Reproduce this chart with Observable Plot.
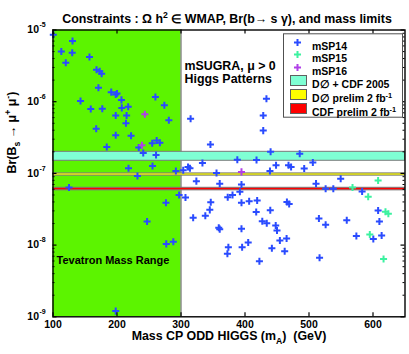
<!DOCTYPE html>
<html>
<head>
<meta charset="utf-8">
<script src="https://cdn.jsdelivr.net/npm/d3@7"></script>
<script src="https://cdn.jsdelivr.net/npm/@observablehq/plot@0.6"></script>
<style>
  html, body { margin: 0; padding: 0; background: white; }
  #chart svg { display: block; }
</style>
</head>
<body>
<div id="chart"></div>
<script>
// ---------- data ----------
const mSP14Mass = [100.5,130.5,113,130,120,157,168,173,176,171,191,198,200,207,143,159,177,207.5,217.5,260,274,198,215,281,214,167.5,198,222,184,234,255,262,267,241,261,218,255.5,232,292,125,276.5,247,277,288,198,
  315,433.5,428.5,428.5,346,440,485.5,388,418,333.5,448.5,506,468,472,492.5,311,314,303.5,355.5,439,324,360.5,394.5,511,549.5,526,538,583,297,307,346.5,373,380.5,392,394.5,406.5,419,465.5,469,345,338,319,417.5,439.5,427,434,448,450,359,360.5,394.5,405,454.5,465,374,395.5,442,372.5,462,422.5,515.5,526,559,608,610,574,600.5,613.5,516.5];
const mSP14Br = [8.6e-6,7.0e-6,5.0e-6,4.8e-6,3.5e-6,4.2e-6,2.8e-6,2.65e-6,2.45e-6,1.56e-6,1.36e-6,1.26e-6,1.30e-6,1.06e-6,1.02e-6,7.9e-7,8.0e-7,8.2e-7,8.5e-7,1.16e-6,8.9e-7,6.4e-7,6.4e-7,5.5e-7,5.0e-7,4.2e-7,3.4e-7,3.35e-7,2.33e-7,2.3e-7,2.64e-7,2.88e-7,2.67e-7,1.93e-7,1.80e-7,1.18e-7,1.27e-7,9.2e-8,1.08e-7,6.35e-8,3.9e-8,2.13e-8,1.04e-8,1.11e-8,1.2e-9,
  5.8e-7,1.10e-6,6.4e-7,3.95e-7,2.53e-7,2.0e-7,1.88e-7,1.55e-7,1.54e-7,1.40e-7,1.30e-7,1.42e-7,1.30e-7,1.23e-7,1.17e-7,1.23e-7,1.18e-7,1.11e-7,1.01e-7,1.08e-7,7.8e-8,7.2e-8,7.0e-8,7.2e-8,8.4e-8,6.1e-8,6.1e-8,5.6e-8,5.0e-8,4.6e-8,3.95e-8,4.65e-8,5.0e-8,5.55e-8,3.9e-8,4.1e-8,4.2e-8,4.0e-8,3.75e-8,3.1e-8,2.56e-8,2.4e-8,2.9e-8,3.07e-8,2.15e-8,2.02e-8,1.87e-8,1.6e-8,1.74e-8,1.67e-8,1.69e-8,1.09e-8,1.16e-8,1.24e-8,9.35e-9,9.35e-9,9.06e-9,7.6e-9,8.2e-9,5.96e-9,2.35e-8,1.92e-8,2.22e-8,3.04e-8,2.13e-8,1.34e-8,1.22e-8,1.36e-8,6.65e-9];
const mSP15Mass = [608,568,592.5,619.5,624,595,616.5];
const mSP15Br = [7.96e-8,6.35e-8,4.73e-8,2.91e-8,2.73e-8,1.41e-8,6.4e-9];
const mSP16Mass = [243.5,239,394.5];
const mSP16Br = [6.7e-7,2.47e-7,1.05e-7];

const tevatronRange = [100, 300];
const bandNames = ["D\u2205 + CDF 2005", "D\u2205 prelim 2 fb^{-1}", "CDF prelim 2 fb^{-1}"];
const bandLow = [1.5e-7, 9.3e-8, 5.8e-8];
const bandHigh = [2.0e-7, 1.0e-7, 6.3e-8];
const bandColors = ["#7fffd4", "#ffff00", "#ff0000"];

const seriesNames = ["mSP14", "mSP15", "mSP16"];
const seriesColors = ["#2a4bff", "#3cf2a0", "#b040e8"];

const xDomain = [100, 650];
const yDomain = [1e-9, 1e-5];
const xTicks = [100, 200, 300, 400, 500, 600];
const yMajor = [1e-9, 1e-8, 1e-7, 1e-6, 1e-5];
const yMinor = yMajor.slice(0, -1).flatMap(d => d3.range(2, 10).map(k => k * d));

// ---------- tables ----------
const toRows = (xs, ys) => xs.map((x, i) => ({mass: x, br: ys[i]}));
const series = [toRows(mSP14Mass, mSP14Br), toRows(mSP15Mass, mSP15Br), toRows(mSP16Mass, mSP16Br)];
const bands = bandNames.map((n, i) => ({name: n, lo: bandLow[i], hi: bandHigh[i], color: bandColors[i]}));

// ---------- layout ----------
const W = 409, H = 354;
const mL = 52.5, mR = 4.5, mT = 29.5, mB = 37.7;
const pw = W - mL - mR, ph = H - mT - mB;
const FONT = "'Liberation Sans', Arial, Helvetica, sans-serif";
const PR = 2.4; // plus radius

const marks = [];
// Tevatron region
marks.push(Plot.rect([tevatronRange], {x1: d => d[0], x2: d => d[1], y1: yDomain[0], y2: yDomain[1], fill: "#5cf400"}));
marks.push(Plot.ruleX([tevatronRange[1]], {x: d => d, stroke: "#707070", strokeWidth: 1.2}));
// bands
bands.forEach(b => {
  marks.push(Plot.rect([b], {x1: xDomain[0], x2: xDomain[1], y1: "lo", y2: "hi", fill: b.color, stroke: "#7a7a7a", strokeWidth: 1}));
});
// points
series.forEach((s, i) => {
  marks.push(Plot.dot(s, {x: "mass", y: "br", symbol: "plus", r: PR, stroke: seriesColors[i], strokeWidth: 2}));
});
// frame + ticks
marks.push(Plot.frame({stroke: "black", strokeWidth: 1.4}));
marks.push(Plot.ruleX(xTicks, {x: d => d, insetTop: ph - 4, stroke: "black", strokeWidth: 1.2}));
marks.push(Plot.ruleX(xTicks, {x: d => d, insetBottom: ph - 4, stroke: "black", strokeWidth: 1.2}));
marks.push(Plot.ruleY(yMajor, {y: d => d, insetRight: pw - 4, stroke: "black", strokeWidth: 1.2}));
marks.push(Plot.ruleY(yMajor, {y: d => d, insetLeft: pw - 4, stroke: "black", strokeWidth: 1.2}));
marks.push(Plot.ruleY(yMinor, {y: d => d, insetRight: pw - 2, stroke: "black", strokeWidth: 1}));
marks.push(Plot.ruleY(yMinor, {y: d => d, insetLeft: pw - 2, stroke: "black", strokeWidth: 1}));
// tick labels
marks.push(Plot.text(xTicks, {x: d => d, frameAnchor: "bottom", dy: 11, text: d => String(d), fontSize: 10.5, fontWeight: "bold"}));
marks.push(Plot.text(yMajor, {y: d => d, frameAnchor: "left", dx: -14, textAnchor: "end", text: () => "10", fontSize: 10.5, fontWeight: "bold"}));
marks.push(Plot.text(yMajor, {y: d => d, frameAnchor: "left", dx: -13.5, dy: -5, textAnchor: "start", text: d => String(Math.round(Math.log10(d))), fontSize: 7, fontWeight: "bold"}));
// axis labels & title
marks.push(Plot.text(["Mass CP ODD HIGGS (m_{A})  (GeV)"], {frameAnchor: "bottom", dy: 23, text: d => d, fontSize: 12.4, fontWeight: "bold"}));
marks.push(Plot.text(["Br(B_{s} \u2192 \u03bc^{+} \u03bc^{-})"], {frameAnchor: "left", dx: -40.5, rotate: -90, text: d => d, fontSize: 12.4, fontWeight: "bold"}));
marks.push(Plot.text(["Constraints : \u03a9 h^{2} \u2208 WMAP, Br(b\u2192 s \u03b3), and mass limits"], {frameAnchor: "top", dx: -2, dy: -15.5, text: d => d, fontSize: 12.4, fontWeight: "bold"}));
// annotations
marks.push(Plot.text(["mSUGRA, \u03bc > 0"], {frameAnchor: "top-left", dx: 131.5, dy: 30.8, textAnchor: "start", text: d => d, fontSize: 12.4, fontWeight: "bold"}));
marks.push(Plot.text(["Higgs Patterns"], {frameAnchor: "top-left", dx: 131.5, dy: 44.2, textAnchor: "start", text: d => d, fontSize: 12.4, fontWeight: "bold"}));
marks.push(Plot.text(["Tevatron Mass Range"], {frameAnchor: "top-left", dx: 3.5, dy: 226.5, textAnchor: "start", text: d => d, fontSize: 11, fontWeight: "bold"}));
// legend
const legTop = 3.8, legBottom = 87.2, legLeft = 230.5, legRight = 349.5;
marks.push(Plot.frame({insetLeft: legLeft, insetRight: pw - legRight, insetTop: legTop, insetBottom: ph - legBottom, fill: "white", stroke: "#505050", strokeWidth: 1}));
const rowY = [12.5, 24.5, 37.5, 50.5, 64.5, 78.5];
seriesNames.forEach((n, i) => {
  marks.push(Plot.dot([n], {frameAnchor: "top-left", dx: 244.5, dy: rowY[i], symbol: "plus", r: PR, stroke: seriesColors[i], strokeWidth: 2}));
  marks.push(Plot.text([n], {frameAnchor: "top-left", dx: 259, dy: rowY[i], textAnchor: "start", text: d => d, fontSize: 10.5, fontWeight: "bold"}));
});
bands.forEach((b, i) => {
  const y = rowY[i + 3];
  marks.push(Plot.frame({insetLeft: 237.5, insetRight: pw - 253.5, insetTop: y - 5, insetBottom: ph - (y + 5), fill: b.color, stroke: "#606060", strokeWidth: 1}));
  marks.push(Plot.text([b.name], {frameAnchor: "top-left", dx: 259, dy: y, textAnchor: "start", text: d => d, fontSize: 10.5, fontWeight: "bold"}));
});

const svg = Plot.plot({
  width: W, height: H,
  marginLeft: mL, marginRight: mR, marginTop: mT, marginBottom: mB,
  x: {domain: xDomain, axis: null},
  y: {type: "log", domain: yDomain, axis: null},
  style: {fontFamily: FONT, background: "white", color: "black", overflow: "visible"},
  marks
});
document.getElementById("chart").appendChild(svg);

// rich text: _{sub} and ^{sup}
d3.select(svg).selectAll("text").each(function() {
  const el = this;
  const s = el.textContent;
  if (!/[_^]\{/.test(s)) return;
  const fs = parseFloat(getComputedStyle(el).fontSize) || 12;
  el.textContent = "";
  const parts = s.split(/([_^]\{[^}]*\})/).filter(p => p);
  let shift = 0;
  for (const p of parts) {
    const t = document.createElementNS("http://www.w3.org/2000/svg", "tspan");
    let target = 0, txt = p, small = false;
    if (p.startsWith("_{")) { target = 0.3 * fs; txt = p.slice(2, -1); small = true; }
    else if (p.startsWith("^{")) { target = -0.42 * fs; txt = p.slice(2, -1); small = true; }
    t.setAttribute("dy", target - shift);
    shift = target;
    if (small) t.setAttribute("font-size", 0.7 * fs);
    t.textContent = txt;
    el.appendChild(t);
  }
});
</script>
</body>
</html>
